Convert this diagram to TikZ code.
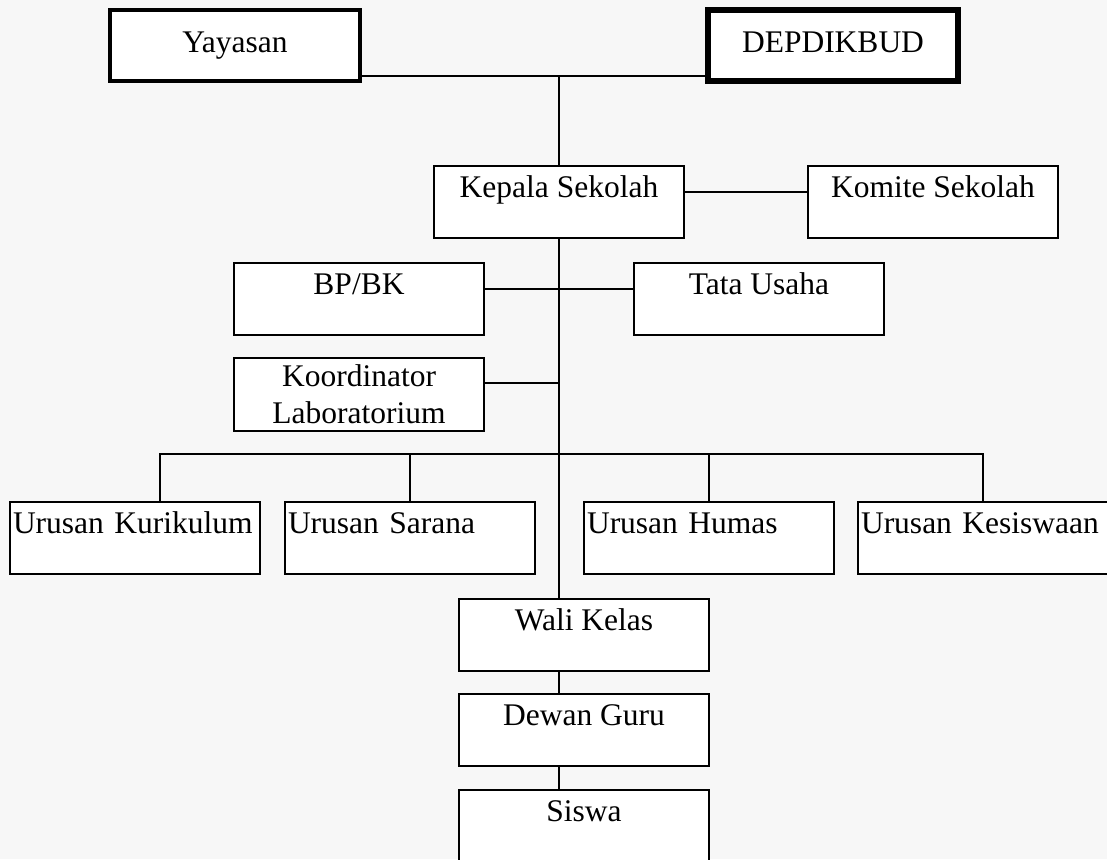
\documentclass[tikz,border=0pt]{standalone}
\usepackage{fontspec}
\setmainfont{Liberation Serif}
\tikzset{
  unit/.style={draw, fill=white, line width=1pt, inner sep=0pt, outer sep=0pt,
    minimum width=125pt, anchor=north west, font=\fontsize{15.75}{18.5}\selectfont},
  post/.style={unit, text height=15.5pt, text depth=20.5pt},
  urusan/.style={post, inner xsep=1.5pt, text width=122pt, align=left},
  head/.style={unit, text height=21pt, text depth=14.5pt},
  link/.style={line width=1pt},
}
\begin{document}
\begin{tikzpicture}[x=0.5pt,y=-0.5pt]
  \fill[black!3] (0,0) rectangle (1107,859);
  \useasboundingbox (0,0) rectangle (1107,859);
  %% yayasan and depdikbud
  \node[head, line width=2pt] (yayasan) at (110,10) {Yayasan};
  \node[head, line width=3pt] (depdikbud) at (708,10) {DEPDIKBUD};
  %% kepala sekolah and komite
  \node[post] (kepala) at (434,166) {Kepala Sekolah};
  \node[post] (komite) at (808,166) {Komite Sekolah};
  %% staff
  \node[post] (bpbk) at (234,263) {BP/BK};
  \node[post] (tatausaha) at (634,263) {Tata Usaha};
  \node[unit, minimum height=36.5pt, align=center] (koordinator) at (234,358) {Koordinator\\Laboratorium};
  %% urusan
  \node[urusan] (kurikulum) at (10,502) {Urusan Kurikulum};
  \node[urusan] (sarana) at (285,502) {Urusan Sarana};
  \node[urusan] (humas) at (584,502) {Urusan Humas};
  \node[urusan] (kesiswaan) at (858,502) {Urusan Kesiswaan};
  %% wali kelas, guru, siswa
  \node[post] (wali) at (459,599) {Wali Kelas};
  \node[post] (dewan) at (459,694) {Dewan Guru};
  \node[post] (siswa) at (459,790) {Siswa};
  %% connectors
  \coordinate (topjoin) at (kepala.north |- 0,76);
  \coordinate (labjoin) at (kepala.south |- 0,383);
  \coordinate (bus) at (kepala.south |- 0,454);
  \draw[link] (yayasan.east |- topjoin) -- (depdikbud.west |- topjoin);
  \draw[link] (topjoin) -- (kepala.north);
  \draw[link] (kepala.mid east) -- (komite.mid west);
  \draw[link] (kepala.south) -- (wali.north -| kepala.south);
  \draw[link] (bpbk.mid east) -- (tatausaha.mid west);
  \draw[link] (koordinator.east |- labjoin) -- (labjoin);
  \draw[link] ([xshift=12.5pt]kurikulum.north) |- (bus) -| (kesiswaan.north);
  \foreach \n in {sarana,humas}
    \draw[link] (\n.north) -- (\n.north |- bus);
  \draw[link] (wali.south -| kepala.south) -- (dewan.north -| kepala.south);
  \draw[link] (dewan.south -| kepala.south) -- (siswa.north -| kepala.south);
\end{tikzpicture}
\end{document}
